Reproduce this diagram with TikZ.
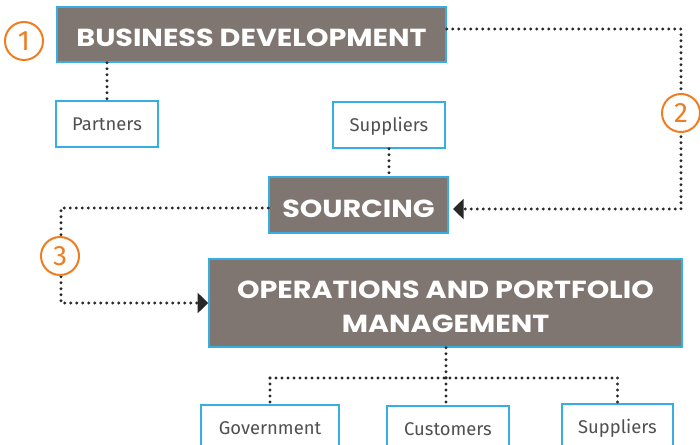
\documentclass[tikz,border=0pt]{standalone}
\usepackage{fontspec}
\newfontfamily\headfont{Poppins}[FakeStretch=1.16]
\newfontfamily\lightfont{Fira Sans}
\usetikzlibrary{arrows.meta,calc}
\definecolor{boxgray}{HTML}{7F7672}
\definecolor{boxblue}{HTML}{35AEE2}
\definecolor{numorange}{HTML}{EF7D22}
\definecolor{dotcol}{HTML}{2A2826}
\definecolor{labtext}{HTML}{505050}
\newdimen\pxu \pxu=0.75pt
\newcommand\capstrut{\rule{0pt}{25\pxu}}
\begin{document}
\begin{tikzpicture}[x=0.75pt,y=-0.75pt,
  headbox/.style={draw=boxblue, line width=1.1pt, fill=boxgray, text=white,
    font=\headfont\bfseries\fontsize{18.5}{25.5}\selectfont, inner sep=0pt,
    align=center},
  labbox/.style={draw=boxblue, line width=1.1pt, fill=white, text=labtext,
    font=\lightfont\fontsize{13.8}{16}\selectfont, inner sep=0pt,
    text height=10pt, text depth=0pt},
  dotline/.style={draw=dotcol, line width=2.3pt, dash pattern=on 0pt off 4.5pt, line cap=round},
  numcirc/.style={circle, draw=numorange, line width=1.5pt, fill=white, text=numorange,
    minimum size=38\pxu, inner sep=0pt, font=\lightfont\fontsize{21}{21}\selectfont},
  tipend/.style={-{Triangle[length=8pt,width=15pt]}}
]
\useasboundingbox (0,0) rectangle (700,445);

% main boxes
\node[headbox, minimum width=389\pxu, minimum height=55\pxu] (BD) at (251.5,34.5) {\capstrut BUSINESS DEVELOPMENT};
\node[headbox, minimum width=179\pxu, minimum height=56\pxu] (Src) at (358.5,205) {\capstrut SOURCING};
\node[headbox, minimum width=473\pxu, minimum height=88\pxu] (Ops) at (445.5,303) {\capstrut OPERATIONS AND PORTFOLIO\\MANAGEMENT};

% label boxes
\node[labbox, minimum width=102\pxu, minimum height=46\pxu] (Par) at (107,124) {Partners};
\node[labbox, minimum width=112\pxu, minimum height=46\pxu] (SupT) at (389,125) {Suppliers};
\node[labbox, minimum width=138\pxu, minimum height=46\pxu] (Gov) at (270,428) {Government};
\node[labbox, minimum width=122\pxu, minimum height=46\pxu] (Cus) at (448,429) {Customers};
\node[labbox, minimum width=111\pxu, minimum height=46\pxu] (SupB) at (617.5,427) {Suppliers};

% connector coordinates
\coordinate (k2a) at (681,29);
\coordinate (k2b) at (681,209);
\coordinate (k2c) at (453,209);
\coordinate (k3a) at (61,208);
\coordinate (k3b) at (61,303);
\coordinate (bj) at (446,378);

% connectors
\draw[dotline] (BD.south -| Par.north) -- (Par.north);
\draw[dotline] (SupT.south) -- (SupT.south |- Src.north);
\draw[dotline, tipend] (BD.east |- k2a) -- (k2a) -- (k2b) -- (k2c);
\draw[dotline, tipend] (Src.west |- k3a) -- (k3a) -- (k3b) -- (Ops.west |- k3b);
\draw[dotline] (Ops.south -| bj) -- (bj);
\draw[dotline] (Gov.north |- bj) -- (SupB.north |- bj);
\draw[dotline] (Gov.north |- bj) -- (Gov.north);
\draw[dotline] (bj) -- (bj |- Cus.north);
\draw[dotline] (SupB.north |- bj) -- (SupB.north);

% step numbers
\node[numcirc] (n1) at (24,41) {1};
\node[numcirc] (n2) at (681,113) {2};
\node[numcirc] (n3) at (60,256) {3};
\end{tikzpicture}
\end{document}
